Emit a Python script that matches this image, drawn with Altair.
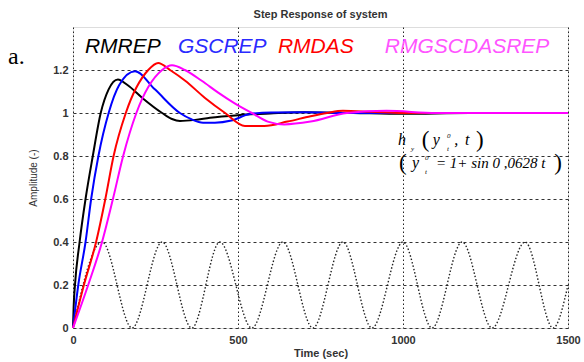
import altair as alt
import pandas as pd

# ---- step responses (time in sec, amplitude) ----
t_rmrep = [0, 2, 6, 20, 38, 60, 84, 108, 136, 165, 210, 270, 300, 324, 370, 415, 500, 597, 700, 850, 1000, 1200, 1500]
y_rmrep = [0, 0.1, 0.2, 0.4, 0.6, 0.8, 1.0, 1.11, 1.156, 1.13, 1.07, 1.0, 0.972, 0.963, 0.968, 0.978, 0.99, 0.998, 1.004, 1.0, 0.996, 1.0, 1.0]

t_gscrep = [0, 16, 38, 55, 77, 108, 140, 188, 248, 324, 360, 394, 430, 480, 536, 600, 700, 850, 1000, 1200, 1500]
y_gscrep = [0, 0.2, 0.4, 0.6, 0.8, 1.0, 1.13, 1.194, 1.11, 1.0, 0.97, 0.955, 0.955, 0.965, 0.995, 1.002, 1.003, 1.0, 1.0, 1.0, 1.0]

t_rmdas = [0, 33, 70, 98, 123, 160, 228, 258, 294, 340, 400, 461, 521, 580, 650, 720, 770, 818, 900, 1000, 1200, 1500]
y_rmdas = [0, 0.2, 0.4, 0.6, 0.8, 1.0, 1.2, 1.233, 1.2, 1.15, 1.07, 1.0, 0.94, 0.94, 0.96, 0.985, 1.0, 1.01, 1.006, 1.0, 1.0, 1.0]

t_rmgsc = [0, 46, 88, 121, 152, 192, 270, 300, 339, 390, 440, 490, 542, 590, 640, 720, 830, 950, 1100, 1300, 1500]
y_rmgsc = [0, 0.2, 0.4, 0.6, 0.8, 1.0, 1.2, 1.222, 1.2, 1.15, 1.095, 1.045, 1.0, 0.96, 0.947, 0.96, 1.0, 1.01, 1.0, 1.0, 1.0]

# ---- reference signal (dotted) : extrema ----
t_ref = [0, 88, 179, 270, 360, 445, 542, 636, 727, 818, 906, 1000, 1088, 1179, 1270, 1370, 1455, 1500]
y_ref = [0, 0.4, 0, 0.4, 0, 0.4, 0, 0.4, 0, 0.4, 0, 0.4, 0, 0.4, 0, 0.4, 0, 0.2]

series_names = ["RMREP", "GSCREP", "RMDAS", "RMGSCDASREP"]
series_colors = ["#000000", "#0000ff", "#ff0000", "#ff00ff"]
label_colors = ["#000000", "#2a2aff", "#ff0000", "#ff55ff"]

y_ticks = [0, 0.2, 0.4, 0.6, 0.8, 1.0, 1.2]
x_ticks = [0, 500, 1000, 1500]

rows = []
for name, ts, ys in zip(series_names,
                        [t_rmrep, t_gscrep, t_rmdas, t_rmgsc],
                        [y_rmrep, y_gscrep, y_rmdas, y_rmgsc]):
    for i, (t, y) in enumerate(zip(ts, ys)):
        rows.append({"series": name, "t": t, "y": y, "i": i})
df = pd.DataFrame(rows)
df_ref = pd.DataFrame({"t": t_ref, "y": y_ref})

# legend-like labels (data coordinates)
df_lab = pd.DataFrame({
    "t": [36, 318, 621, 945],
    "y": [1.278] * 4,
    "text": series_names,
    "color": label_colors,
})

# formula annotation pieces (data coordinates), italic letters
df_f = pd.DataFrame({
    "t":    [985, 1024, 1090, 1133, 1133, 1155, 1188,
             1027, 1067, 1067, 1100],
    "y":    [0.85, 0.825, 0.85, 0.885, 0.822, 0.85, 0.85,
             0.745, 0.78, 0.718, 0.745],
    "text": ["h", "y", "y", "0", "t", ",", "t",
             "y", "0", "t", "= 1+ sin 0 ,0628  t"],
    "size": [16, 7, 16, 7, 7, 16, 16,
             16, 7, 7, 15],
})
# formula parentheses (upright)
df_p = pd.DataFrame({
    "t":    [1057, 1221, 988, 1458],
    "y":    [0.84, 0.84, 0.735, 0.735],
    "text": ["(", ")", "(", ")"],
})

df_a = pd.DataFrame({"t": [-197], "y": [1.227], "text": ["a."]})

xs = alt.Scale(domain=[0, 1500], nice=False, zero=False)
ys = alt.Scale(domain=[0, 1.4], nice=False)

x_axis = alt.Axis(values=x_ticks, title="Time (sec)", grid=True, gridDash=[1.5, 2.5],
                  gridColor="#222", gridWidth=1, gridOpacity=1,
                  labelExpr="format(datum.value, 'd')",
                  labelFont="Liberation Sans", labelFontWeight="bold", labelFontSize=11,
                  labelColor="#333", titleFont="Liberation Sans", titleFontWeight="bold",
                  titleFontSize=11, titleColor="#333", ticks=False, domain=False,
                  labelPadding=6, titlePadding=2, labelFlush=False)
y_axis = alt.Axis(values=y_ticks, title="Amplitude (-)", grid=True, gridDash=[3, 3],
                  gridColor="#333", gridWidth=1, gridOpacity=1,
                  labelExpr="datum.value == 0 ? '0' : (datum.value == 1 ? '1' : format(datum.value, '.1f'))",
                  labelFont="Liberation Sans", labelFontWeight="bold", labelFontSize=11,
                  labelColor="#333", titleFont="Liberation Sans", titleFontWeight="normal",
                  titleFontSize=10, titleColor="#333", ticks=False, domain=False,
                  labelPadding=5, titlePadding=14)

ref = alt.Chart(df_ref).mark_line(color="#222", strokeWidth=1.4, strokeDash=[1.5, 2],
                                  interpolate="monotone").encode(
    x=alt.X("t:Q", scale=xs, axis=x_axis),
    y=alt.Y("y:Q", scale=ys, axis=y_axis),
)

lines = alt.Chart(df).mark_line(strokeWidth=2, interpolate="monotone").encode(
    x=alt.X("t:Q", scale=xs),
    y=alt.Y("y:Q", scale=ys),
    color=alt.Color("series:N", scale=alt.Scale(domain=series_names, range=series_colors),
                    legend=None),
    order="i:Q",
)

labels = alt.Chart(df_lab).mark_text(align="left", baseline="alphabetic", fontSize=21,
                                     font="Liberation Sans", fontStyle="italic").encode(
    x=alt.X("t:Q", scale=xs),
    y=alt.Y("y:Q", scale=ys),
    text="text:N",
    color=alt.Color("color:N", scale=None),
)

formula = alt.Chart(df_f).mark_text(align="left", baseline="alphabetic",
                                    font="Liberation Serif", fontStyle="italic",
                                    color="#000").encode(
    x=alt.X("t:Q", scale=xs),
    y=alt.Y("y:Q", scale=ys),
    text="text:N",
    size=alt.Size("size:Q", scale=None),
)

parens = alt.Chart(df_p).mark_text(align="left", baseline="alphabetic", fontSize=23,
                                   font="Liberation Serif", color="#000").encode(
    x=alt.X("t:Q", scale=xs),
    y=alt.Y("y:Q", scale=ys),
    text="text:N",
)

alabel = alt.Chart(df_a).mark_text(align="left", baseline="alphabetic", fontSize=24,
                                   font="Liberation Serif", color="#000").encode(
    x=alt.X("t:Q", scale=xs),
    y=alt.Y("y:Q", scale=ys),
    text="text:N",
)

chart = alt.layer(ref, lines, labels, formula, parens, alabel).properties(
    width=495, height=301,
    title=alt.TitleParams("Step Response of system", font="Liberation Sans",
                          fontSize=11, fontWeight="bold", color="#333", offset=7),
    autosize=alt.AutoSizeParams(type="none"),
    padding={"left": 73, "top": 27, "right": 16, "bottom": 34},
).configure_view(stroke="#444", strokeWidth=1.5).configure(background="white")

chart.save("out.html", embed_options={"renderer": "svg", "actions": False})
